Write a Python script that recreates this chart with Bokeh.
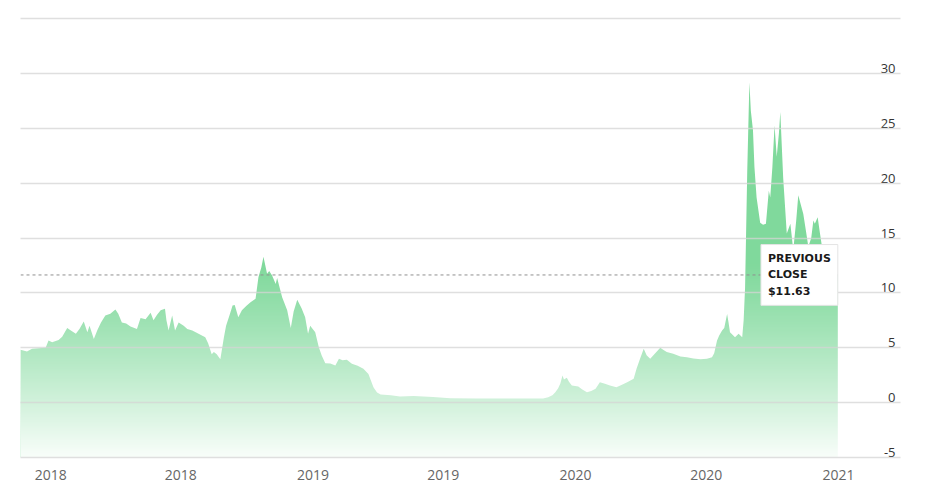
import numpy as np
import pandas as pd
from bokeh.plotting import figure
from bokeh.models import Range1d, FixedTicker, DatetimeTickFormatter, Label
from bokeh.core.properties import value
from bokeh.embed import file_html
from bokeh.resources import INLINE

# ---------------- data ----------------
dates = ["2017-11-20","2017-11-29","2017-12-06","2017-12-15","2017-12-25","2017-12-29","2018-01-03","2018-01-12","2018-01-17","2018-01-24",
         "2018-01-28","2018-02-05","2018-02-10","2018-02-16","2018-02-21","2018-02-24","2018-03-02","2018-03-07","2018-03-12","2018-03-18",
         "2018-03-25","2018-04-01","2018-04-05","2018-04-10","2018-04-16","2018-04-22","2018-05-01","2018-05-06","2018-05-13","2018-05-20",
         "2018-05-24","2018-05-29","2018-06-03","2018-06-09","2018-06-11","2018-06-14","2018-06-19","2018-06-23","2018-06-28","2018-07-05",
         "2018-07-10","2018-07-17","2018-07-25","2018-08-04","2018-08-08","2018-08-13","2018-08-16","2018-08-20","2018-08-25","2018-08-30",
         "2018-09-02","2018-09-07","2018-09-11","2018-09-14","2018-09-19","2018-09-24","2018-09-30","2018-10-06","2018-10-13","2018-10-17",
         "2018-10-21","2018-10-24","2018-10-29","2018-11-01","2018-11-05","2018-11-10","2018-11-12","2018-11-19","2018-11-26","2018-12-01",
         "2018-12-05","2018-12-10","2018-12-16","2018-12-21","2018-12-25","2018-12-28","2019-01-04","2019-01-09","2019-01-13","2019-01-18",
         "2019-01-25","2019-02-01","2019-02-06","2019-02-11","2019-02-17","2019-02-24","2019-03-04","2019-03-12","2019-03-19","2019-03-26",
         "2019-03-31","2019-04-05","2019-04-19","2019-05-02","2019-05-21","2019-06-17","2019-07-11","2019-08-15","2019-09-18","2019-10-23",
         "2019-11-17","2019-11-24","2019-11-30","2019-12-04","2019-12-08","2019-12-11","2019-12-14","2019-12-16","2019-12-20","2019-12-23",
         "2019-12-27","2020-01-05","2020-01-10","2020-01-17","2020-01-23","2020-01-29","2020-02-04","2020-02-11","2020-02-18","2020-02-27",
         "2020-03-05","2020-03-13","2020-03-22","2020-03-26","2020-03-31","2020-04-05","2020-04-09","2020-04-14","2020-04-21","2020-04-28",
         "2020-05-02","2020-05-07","2020-05-16","2020-05-26","2020-06-04","2020-06-13","2020-06-23","2020-07-02","2020-07-09","2020-07-12",
         "2020-07-16","2020-07-19","2020-07-23","2020-07-26","2020-07-30","2020-08-01","2020-08-03","2020-08-10","2020-08-15","2020-08-20",
         "2020-08-22","2020-08-24","2020-08-27","2020-08-30","2020-09-01","2020-09-04","2020-09-06","2020-09-09","2020-09-14","2020-09-18",
         "2020-09-22","2020-09-26","2020-09-28","2020-10-01","2020-10-04","2020-10-07","2020-10-10","2020-10-12","2020-10-16","2020-10-21",
         "2020-10-26","2020-10-30","2020-11-03","2020-11-06","2020-11-13","2020-11-17","2020-11-20","2020-11-24","2020-11-27","2020-11-29",
         "2020-12-03","2020-12-06","2020-12-09","2020-12-15","2020-12-22","2020-12-31"]

prices = [4.8, 4.65, 4.9, 4.95, 5.0, 5.65, 5.5, 5.7, 6.0, 6.8,
          6.6, 6.26, 6.7, 7.38, 6.4, 7.0, 5.8, 6.6, 7.3, 7.93,
          8.1, 8.48, 8.1, 7.3, 7.2, 6.93, 6.7, 7.7, 7.6, 8.18,
          7.5, 8.0, 8.4, 8.54, 7.5, 6.56, 7.93, 6.56, 7.3, 7.0,
          6.7, 6.56, 6.3, 5.95, 5.4, 4.4, 4.6, 4.4, 3.95, 5.95,
          7.0, 8.0, 8.84, 8.9, 7.78, 8.4, 8.8, 9.14, 9.45, 11.42,
          12.3, 13.3, 11.73, 12.0, 11.58, 10.8, 11.36, 9.6, 8.4, 6.8,
          8.3, 9.36, 8.6, 7.78, 6.26, 7.0, 6.4, 5.04, 4.28, 3.58,
          3.55, 3.37, 3.98, 3.85, 3.9, 3.53, 3.35, 3.07, 2.6, 1.4,
          0.9, 0.73, 0.65, 0.55, 0.58, 0.5, 0.38, 0.36, 0.36, 0.36,
          0.36, 0.48, 0.65, 0.94, 1.3, 1.73, 2.46, 2.1, 2.25, 1.9,
          1.55, 1.46, 1.2, 0.94, 1.05, 1.25, 1.85, 1.7, 1.55, 1.4,
          1.6, 1.85, 2.16, 3.07, 4.0, 4.9, 4.3, 3.98, 4.5, 4.98,
          4.8, 4.6, 4.44, 4.2, 4.13, 4.0, 3.95, 3.98, 4.13, 4.5,
          5.65, 6.1, 6.56, 6.8, 8.08, 7.3, 6.4, 5.95, 6.26, 5.95,
          7.5, 10.5, 21.1, 29.2, 26.6, 24.8, 21.5, 18.7, 16.4, 16.2,
          16.3, 19.3, 18.7, 21.5, 25.25, 22.4, 24.5, 26.5, 20.5, 15.4,
          16.3, 13.9, 16.5, 18.9, 17.2, 15.5, 14.2, 15.0, 16.6, 16.3,
          16.9, 15.5, 14.2, 13.2, 12.4, 11.63]

previous_close = 11.63
y_tick_values = [-5, 0, 5, 10, 15, 20, 25, 30]
y_grid_values = [-5, 0, 5, 10, 15, 20, 25, 30, 35]
x_tick_dates = ["2018-01-01", "2018-07-01", "2019-01-01", "2019-07-01",
                "2020-01-01", "2020-07-01", "2021-01-01"]

if len(dates) != len(prices):
    raise SystemExit(f"length mismatch {len(dates)} vs {len(prices)}")

# ---------------- figure ----------------
x = pd.to_datetime(dates)
x_start = x[0]
x_end = pd.Timestamp("2021-03-28 05:00")
y_lo, y_hi = -5.2, 35.2

p = figure(frame_width=880, frame_height=443, width=911, height=489,
           x_axis_type="datetime",
           x_range=Range1d(x_start, x_end), y_range=Range1d(y_lo, y_hi),
           output_backend="svg", toolbar_location=None,
           min_border_left=20, min_border_right=11,
           min_border_top=16, min_border_bottom=30)
p.outline_line_color = None
p.background_fill_color = "white"
p.border_fill_color = "white"
p.yaxis.visible = False
p.xgrid.visible = False

p.ygrid.ticker = FixedTicker(ticks=y_grid_values)
p.ygrid.grid_line_color = "#d4d4d4"
p.ygrid.grid_line_alpha = 0.75
p.ygrid.grid_line_width = 1.5
p.ygrid.level = "guide"

tick_ms = [pd.Timestamp(d).value // 10**6 for d in x_tick_dates]
p.xaxis.ticker = FixedTicker(ticks=tick_ms)
fmt = "%Y"
p.xaxis.formatter = DatetimeTickFormatter(
    microseconds=fmt, milliseconds=fmt, seconds=fmt, minsec=fmt, minutes=fmt,
    hourmin=fmt, hours=fmt, days=fmt, months=fmt, years=fmt)
p.xaxis.axis_line_color = None
p.xaxis.major_tick_line_color = None
p.xaxis.minor_tick_line_color = None
p.xaxis.major_label_text_font = "Open Sans"
p.xaxis.major_label_text_font_size = "14px"
p.xaxis.major_label_text_color = "#666666"
p.xaxis.major_label_standoff = 4

# area (solid green), then a white vertical gradient overlay to fade it downward
p.varea(x=x, y1=y_tick_values[0], y2=prices, fill_color="#80d99c", fill_alpha=1.0)

n_rows = 404
rows = (np.arange(n_rows) + 0.5) / n_rows * (y_hi - y_lo) + y_lo
t = np.clip((13.0 - rows) / 18.0, 0, 1)
alpha = 0.95 * t ** 1.2
img = np.zeros((n_rows, 1), dtype=np.uint32)
view = img.view(dtype=np.uint8).reshape((n_rows, 1, 4))
view[:, 0, 0] = 255
view[:, 0, 1] = 255
view[:, 0, 2] = 255
view[:, 0, 3] = (alpha * 255).astype(np.uint8)
span_ms = (x_end - x_start).total_seconds() * 1000.0
p.image_rgba(image=[img], x=x_start.value / 1e6, y=y_lo, dw=span_ms, dh=y_hi - y_lo)

# previous close dashed line
p.line(x=[x_start, x[-1]], y=[previous_close, previous_close],
       line_color="#8f8f8f", line_width=1, line_dash="3 3")

# y tick labels, inside the plot at the right
p.text(x=[x_end] * len(y_tick_values), y=y_tick_values,
       text=[str(v) for v in y_tick_values],
       x_offset=-5, y_offset=-5, text_align="right", text_baseline="alphabetic",
       text_font=value("Open Sans"), text_font_size="13px", text_color="#333333")

# previous close box
p.add_layout(Label(x=x[-1].value / 1e6, y=previous_close, anchor="center_right",
                   text=f"PREVIOUS\nCLOSE\n${previous_close:.2f}",
                   text_font="DejaVu Sans", text_font_style="bold",
                   text_font_size="11px", text_color="#1a1a1a", text_line_height=1.3,
                   background_fill_color="white", background_fill_alpha=1.0,
                   border_line_color="#e4e4e4", padding=7))

open("out.html", "w").write(file_html(p, INLINE))
